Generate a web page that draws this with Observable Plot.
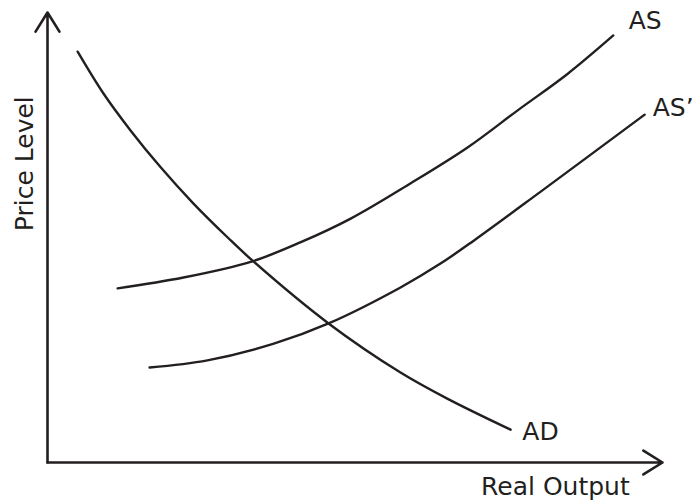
<!DOCTYPE html>
<html>
<head>
<meta charset="utf-8">
<script src="https://cdn.jsdelivr.net/npm/d3@7"></script>
<script src="https://cdn.jsdelivr.net/npm/@observablehq/plot@0.6"></script>
<style>
  html, body { margin: 0; padding: 0; background: #fff; }
  svg text { font-family: "DejaVu Sans", sans-serif; }
</style>
</head>
<body>
<div id="chart"></div>
<script>
// Curves (x = real output, y = price level), abstract units 0..100
const adX = [4.9, 9.1, 13.5, 18.4, 23.7, 29.3, 33.3, 45.7, 57.4, 65.0, 75.3];
const adY = [91.3, 82.0, 73.8, 65.6, 57.6, 50.0, 44.9, 30.9, 20.0, 14.2, 7.3];

const asX = [11.4, 22.1, 33.3, 41.1, 49.3, 59.0, 68.3, 76.4, 84.6, 92.0];
const asY = [38.7, 41.1, 44.7, 48.9, 54.2, 62.0, 70.0, 78.2, 86.4, 94.9];

const as2X = [16.6, 26.0, 36.8, 45.7, 57.4, 63.9, 69.3, 80.2, 97.1];
const as2Y = [21.1, 22.7, 26.4, 30.9, 38.9, 44.2, 49.3, 60.2, 77.3];

// Curve labels
const curveLabels = ["AS", "AS\u2019", "AD"];
const curveLabelX = [94.5, 98.4, 77.2];
const curveLabelY = [96.4, 77.1, 4.9];

// Axis titles
const xTitle = "Real Output";
const yTitle = "Price Level";

const toPts = (xs, ys) => xs.map((x, i) => ({x, y: ys[i]}));
const ink = "#231f20";

const axes = [
  {x1: 0, y1: 0, x2: 100, y2: 0},
  {x1: 0, y1: 0, x2: 0, y2: 100}
];

const chart = Plot.plot({
  width: 694,
  height: 502,
  marginLeft: 47,
  marginRight: 32,
  marginTop: 12,
  marginBottom: 40,
  x: {domain: [0, 100], axis: null},
  y: {domain: [0, 100], axis: null},
  style: {background: "#fff", overflow: "visible"},
  marks: [
    Plot.arrow(axes, {x1: "x1", y1: "y1", x2: "x2", y2: "y2", stroke: ink, strokeWidth: 2.6, headLength: 13, headAngle: 64}),
    Plot.line(toPts(adX, adY), {x: "x", y: "y", curve: "catmull-rom", stroke: ink, strokeWidth: 2.4}),
    Plot.line(toPts(asX, asY), {x: "x", y: "y", curve: "catmull-rom", stroke: ink, strokeWidth: 2.4}),
    Plot.line(toPts(as2X, as2Y), {x: "x", y: "y", curve: "catmull-rom", stroke: ink, strokeWidth: 2.4}),
    Plot.text(curveLabels.map((t, i) => ({t, x: curveLabelX[i], y: curveLabelY[i]})),
      {x: "x", y: "y", text: "t", textAnchor: "start", lineAnchor: "bottom", fontSize: 25, fill: ink}),
    Plot.text([{t: xTitle, x: 70.5, y: -7.3}],
      {x: "x", y: "y", text: "t", textAnchor: "start", lineAnchor: "bottom", fontSize: 25, fill: ink}),
    Plot.text([{t: yTitle, x: -3.7, y: 66.4}],
      {x: "x", y: "y", text: "t", textAnchor: "middle", lineAnchor: "middle", rotate: -90, fontSize: 25, fill: ink})
  ]
});
document.getElementById("chart").appendChild(chart);
</script>
</body>
</html>
